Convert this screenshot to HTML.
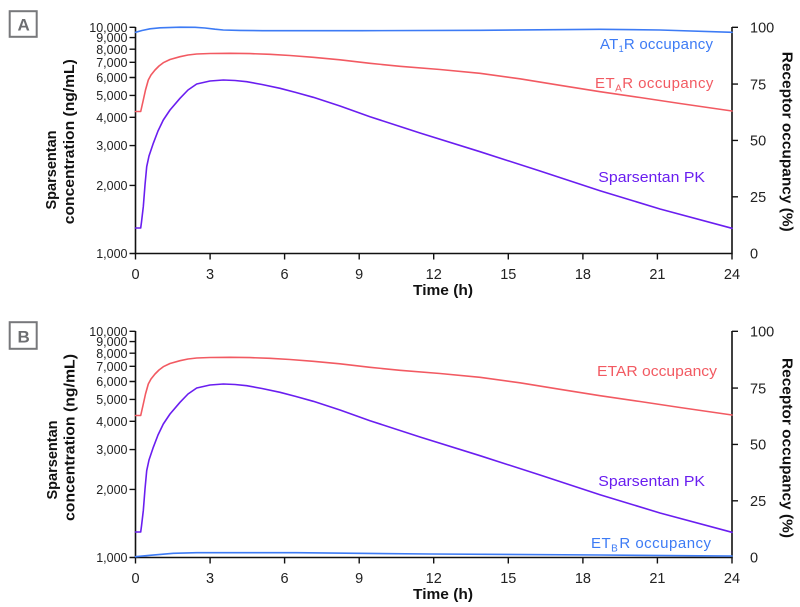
<!DOCTYPE html>
<html><head><meta charset="utf-8"><style>
html,body{margin:0;padding:0;background:#fff;}
svg{display:block;}
text{font-family:"Liberation Sans",Arial,sans-serif;}
.tl{font-size:12.5px;fill:#222;text-anchor:end;}
.tr{font-size:14.5px;fill:#222;text-anchor:start;}
.tx{font-size:14.5px;fill:#222;text-anchor:middle;}
.ti{font-size:14.5px;font-weight:bold;fill:#111;text-anchor:middle;}
.ax{stroke:#111;stroke-width:1.6;fill:none;}
.tk{stroke:#111;stroke-width:1.4;}
.c{fill:none;stroke-width:1.6;stroke-linejoin:round;stroke-linecap:round;}
.lab{font-size:15px;}
</style></head><body>
<svg width="800" height="607" viewBox="0 0 800 607" xmlns="http://www.w3.org/2000/svg">
<!-- Panel labels -->
<rect x="9.7" y="11.2" width="27" height="25.6" fill="none" stroke="#77787b" stroke-width="2"/>
<text x="23.6" y="30.7" font-size="17" font-weight="bold" fill="#6d6e71" text-anchor="middle">A</text>
<rect x="9.7" y="322.2" width="27" height="26.6" fill="none" stroke="#77787b" stroke-width="2"/>
<text x="23.6" y="342.3" font-size="17" font-weight="bold" fill="#6d6e71" text-anchor="middle">B</text>

<!-- ===== PANEL A ===== -->
<g>
<path class="ax" d="M135.5,27 V253.5 H732 V27"/>
<g class="tk">
<path d="M129.5,253.5H135.5M129.5,185.4H135.5M129.5,145.6H135.5M129.5,117.3H135.5M129.5,95.4H135.5M129.5,77.5H135.5M129.5,62.3H135.5M129.5,49.2H135.5M129.5,37.6H135.5M129.5,27.3H135.5"/>
<path d="M732,27.3H738M732,84.1H738M732,140.4H738M732,196.8H738"/>
<path d="M135.5,253.5V259.5M210.1,253.5V259.5M284.6,253.5V259.5M359.2,253.5V259.5M433.7,253.5V259.5M508.3,253.5V259.5M582.9,253.5V259.5M657.4,253.5V259.5M732,253.5V259.5"/>
</g>
<text class="tl" x="127.5" y="258">1,000</text>
<text class="tl" x="127.5" y="190">2,000</text>
<text class="tl" x="127.5" y="150.2">3,000</text>
<text class="tl" x="127.5" y="121.9">4,000</text>
<text class="tl" x="127.5" y="100">5,000</text>
<text class="tl" x="127.5" y="82.1">6,000</text>
<text class="tl" x="127.5" y="66.9">7,000</text>
<text class="tl" x="127.5" y="53.8">8,000</text>
<text class="tl" x="127.5" y="42.2">9,000</text>
<text class="tl" x="127.5" y="31.9">10,000</text>
<text class="tr" x="750" y="32.5">100</text>
<text class="tr" x="750" y="89.3">75</text>
<text class="tr" x="750" y="145.6">50</text>
<text class="tr" x="750" y="202">25</text>
<text class="tr" x="750" y="258.7">0</text>
<text class="tx" x="135.5" y="279">0</text>
<text class="tx" x="210.1" y="279">3</text>
<text class="tx" x="284.6" y="279">6</text>
<text class="tx" x="359.2" y="279">9</text>
<text class="tx" x="433.7" y="279">12</text>
<text class="tx" x="508.3" y="279">15</text>
<text class="tx" x="582.9" y="279">18</text>
<text class="tx" x="657.4" y="279">21</text>
<text class="tx" x="732" y="279">24</text>
<text class="ti" x="443" y="295" textLength="60" lengthAdjust="spacingAndGlyphs">Time (h)</text>
<text class="ti" transform="translate(56,170) rotate(-90)">Sparsentan</text>
<text class="ti" transform="translate(74,141.7) rotate(-90)" textLength="165" lengthAdjust="spacingAndGlyphs">concentration (ng/mL)</text>
<text class="ti" transform="translate(782.5,141.7) rotate(90)" textLength="180" lengthAdjust="spacingAndGlyphs">Receptor occupancy (%)</text>

<polyline class="c" stroke="#3d7bf5" points="135.5,32.3 142,30.5 150,28.8 160,27.8 180,27.2 195,27.3 205,28 215,29.2 223.3,30 240,30.4 263,30.7 360,30.7 480,30.3 600,29.3 660,30 732,32.3"/>
<polyline class="c" stroke="#f25a62" points="135.5,111.5 140.7,111.5 141.5,108 143.3,100 145.5,90 148.3,80 151,75 155,70 159,66 163.3,62.7 170,59.5 180,56.7 188,55 196.7,54 210,53.5 230,53.3 250,53.6 270,54.3 290,55.5 313.3,57.3 340,59.8 370,63.3 400,66.3 440,69.5 480,73.3 520,78.8 560,85.3 600,91.7 640,97.5 680,103.5 732,111"/>
<polyline class="c" stroke="#6a1ef0" points="135.5,228 140.7,228 141.5,222 143.3,206.7 145,185 146.7,166.7 149,156 153.3,143.3 158,131 163.3,120 170,110 180,98.3 188,90 196.7,84 210,81 223.3,80 235,80.5 246.7,81.7 262,84.5 280,88.3 296,92.5 313.3,97.3 340,106 370,116.7 420,133 480,151.7 540,171 600,190.7 660,209 732,228.3"/>

<text class="lab" x="600" y="49" fill="#3d7bf5" letter-spacing="0.25">AT<tspan font-size="9" dy="3">1</tspan><tspan dy="-3">R occupancy</tspan></text>
<text class="lab" x="595" y="88" fill="#f25a62" letter-spacing="0.45">ET<tspan font-size="10" dy="3.5">A</tspan><tspan dy="-3.5">R occupancy</tspan></text>
<text class="lab" x="598.3" y="182" fill="#6a1ef0" textLength="106.7" lengthAdjust="spacingAndGlyphs">Sparsentan PK</text>
</g>

<!-- ===== PANEL B ===== -->
<g>
<path class="ax" d="M135.5,331 V557.5 H732 V331"/>
<g class="tk">
<path d="M129.5,557.5H135.5M129.5,489.4H135.5M129.5,449.6H135.5M129.5,421.3H135.5M129.5,399.4H135.5M129.5,381.5H135.5M129.5,366.3H135.5M129.5,353.2H135.5M129.5,341.6H135.5M129.5,331.3H135.5"/>
<path d="M732,331.3H738M732,388.1H738M732,444.4H738M732,500.8H738"/>
<path d="M135.5,557.5V563.5M210.1,557.5V563.5M284.6,557.5V563.5M359.2,557.5V563.5M433.7,557.5V563.5M508.3,557.5V563.5M582.9,557.5V563.5M657.4,557.5V563.5M732,557.5V563.5"/>
</g>
<text class="tl" x="127.5" y="562">1,000</text>
<text class="tl" x="127.5" y="494">2,000</text>
<text class="tl" x="127.5" y="454.2">3,000</text>
<text class="tl" x="127.5" y="425.9">4,000</text>
<text class="tl" x="127.5" y="404">5,000</text>
<text class="tl" x="127.5" y="386.1">6,000</text>
<text class="tl" x="127.5" y="370.9">7,000</text>
<text class="tl" x="127.5" y="357.8">8,000</text>
<text class="tl" x="127.5" y="346.2">9,000</text>
<text class="tl" x="127.5" y="335.9">10,000</text>
<text class="tr" x="750" y="336.5">100</text>
<text class="tr" x="750" y="393.3">75</text>
<text class="tr" x="750" y="449.6">50</text>
<text class="tr" x="750" y="506">25</text>
<text class="tr" x="750" y="562.7">0</text>
<text class="tx" x="135.5" y="583">0</text>
<text class="tx" x="210.1" y="583">3</text>
<text class="tx" x="284.6" y="583">6</text>
<text class="tx" x="359.2" y="583">9</text>
<text class="tx" x="433.7" y="583">12</text>
<text class="tx" x="508.3" y="583">15</text>
<text class="tx" x="582.9" y="583">18</text>
<text class="tx" x="657.4" y="583">21</text>
<text class="tx" x="732" y="583">24</text>
<text class="ti" x="443" y="599" textLength="60" lengthAdjust="spacingAndGlyphs">Time (h)</text>
<text class="ti" transform="translate(57,460) rotate(-90)">Sparsentan</text>
<text class="ti" transform="translate(74.5,437.5) rotate(-90)" textLength="167" lengthAdjust="spacingAndGlyphs">concentration (ng/mL)</text>
<text class="ti" transform="translate(782.5,448) rotate(90)" textLength="180" lengthAdjust="spacingAndGlyphs">Receptor occupancy (%)</text>

<polyline class="c" stroke="#f25a62" points="135.5,415.5 140.7,415.5 141.5,412 143.3,404 145.5,394 148.3,384 151,379 155,374 159,370 163.3,366.7 170,363.5 180,360.7 188,359 196.7,358 210,357.5 230,357.3 250,357.6 270,358.3 290,359.5 313.3,361.3 340,363.8 370,367.3 400,370.3 440,373.5 480,377.3 520,382.8 560,389.3 600,395.7 640,401.5 680,407.5 732,415"/>
<polyline class="c" stroke="#6a1ef0" points="135.5,532 140.7,532 141.5,526 143.3,510.7 145,489 146.7,470.7 149,460 153.3,447.3 158,435 163.3,424 170,414 180,402.3 188,394 196.7,388 210,385 223.3,384 235,384.5 246.7,385.7 262,388.5 280,392.3 296,396.5 313.3,401.3 340,410 370,420.7 420,437 480,455.7 540,475 600,494.7 660,513 732,532.3"/>
<polyline class="c" stroke="#3d7bf5" points="135.5,556.7 150,555.3 173.3,553.3 196.7,552.7 296.7,552.7 430,554 600,555 732,556"/>

<text class="lab" x="597" y="376" fill="#f25a62" textLength="120" lengthAdjust="spacingAndGlyphs">ETAR occupancy</text>
<text class="lab" x="598.3" y="486" fill="#6a1ef0" textLength="106.7" lengthAdjust="spacingAndGlyphs">Sparsentan PK</text>
<text class="lab" x="591" y="548" fill="#3d7bf5" letter-spacing="0.5">ET<tspan font-size="10" dy="3.5">B</tspan><tspan dy="-3.5" dx="1">R occupancy</tspan></text>
</g>
</svg>
</body></html>
